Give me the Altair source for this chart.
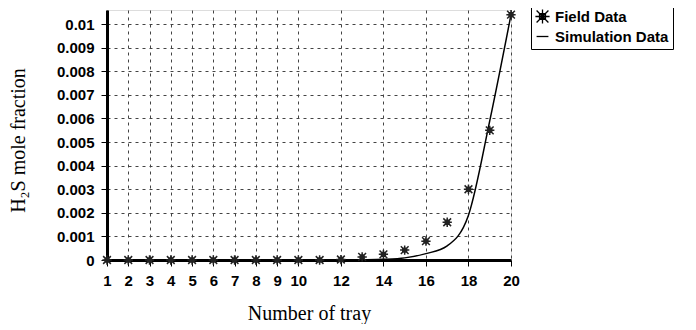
import altair as alt
import pandas as pd

trays = list(range(1, 21))
field = [0, 0, 0, 0, 0, 0, 0, 0, 0, 0, 0, 0.00002, 0.00013, 0.00024, 0.00042,
         0.0008, 0.0016, 0.003, 0.0055, 0.0104]
sim = [0, 0, 0, 0, 0, 0, 0, 0, 0, 0, 0, 0, 0.00001, 0.00003, 0.00009,
       0.00027, 0.0006, 0.0019, 0.0059, 0.0104]
x_ticks = [1, 2, 3, 4, 5, 6, 7, 8, 9, 10, 12, 14, 16, 18, 20]
y_ticks = [0, 0.001, 0.002, 0.003, 0.004, 0.005, 0.006, 0.007, 0.008, 0.009, 0.01]
series = ["Field Data", "Simulation Data"]

df_field = pd.DataFrame({"tray": trays, "value": field, "series": series[0]})
df_sim = pd.DataFrame({"tray": trays, "value": sim, "series": series[1]})

star = ("M-0.5,-0.5H0.5V0.5H-0.5Z M-0.25,-0.25H0.25V0.25H-0.25Z "
        "M-1,-1L1,1 M-1,1L1,-1 M0,-1.2L0,1.2 M-1.2,0L1.2,0")
dash = "M-1,0L1,0"

xs = alt.Scale(domain=[1, 20], nice=False, zero=False)
ys = alt.Scale(domain=[0, 0.0106], nice=False)

common = dict(grid=True, gridDash=[3, 4], gridColor="#444", gridWidth=1,
              domainColor="black", domainWidth=3, tickColor="black",
              tickSize=6, labelFont="Liberation Sans", labelFontWeight="bold",
              labelFontSize=15, labelColor="black", labelOverlap=False,
              labelFlush=False, labelBound=False,
              titleFont="Liberation Serif", titleFontSize=20,
              titleFontWeight="normal", titleColor="black")

xaxis = alt.Axis(values=x_ticks, title="Number of tray", format="d",
                 labelPadding=7, titleY=59, titleBaseline="alphabetic", **common)
yaxis = alt.Axis(values=y_ticks, title="H₂S mole fraction", format=".3~f",
                 labelPadding=7, titleX=-89, titleY=130, titleAlign="center",
                 titleBaseline="middle", titleAngle=270, **common)

line = alt.Chart(df_sim).mark_line(color="black", strokeWidth=1.5,
                                   interpolate="monotone").encode(
    x=alt.X("tray:Q", scale=xs, axis=xaxis),
    y=alt.Y("value:Q", scale=ys, axis=yaxis),
)

points = alt.Chart(df_field).mark_point(
    filled=False, color="#222", strokeWidth=1.5, size=60, opacity=1
).encode(
    x=alt.X("tray:Q", scale=xs, axis=xaxis),
    y=alt.Y("value:Q", scale=ys, axis=yaxis),
    shape=alt.Shape("series:N", scale=alt.Scale(domain=series, range=[star, dash]),
                    title=None,
                    legend=alt.Legend(orient="none", legendX=424, legendY=-5,
                                      fillColor="white", strokeColor="black",
                                      padding=4, rowPadding=2,
                                      labelFont="Liberation Sans",
                                      labelFontWeight="bold", labelFontSize=15,
                                      labelColor="black", symbolSize=140,
                                      symbolStrokeColor="black",
                                      symbolStrokeWidth=1.3,
                                      labelOffset=5)),
)

chart = alt.layer(line, points).properties(
    width=404, height=250,
    autosize=alt.AutoSizeParams(type="none"),
    padding={"left": 99, "top": 2, "right": 177, "bottom": 64},
).configure_view(stroke="black", strokeWidth=2).configure(background="white")

chart.save("out.html", embed_options={"renderer": "svg", "actions": False})
